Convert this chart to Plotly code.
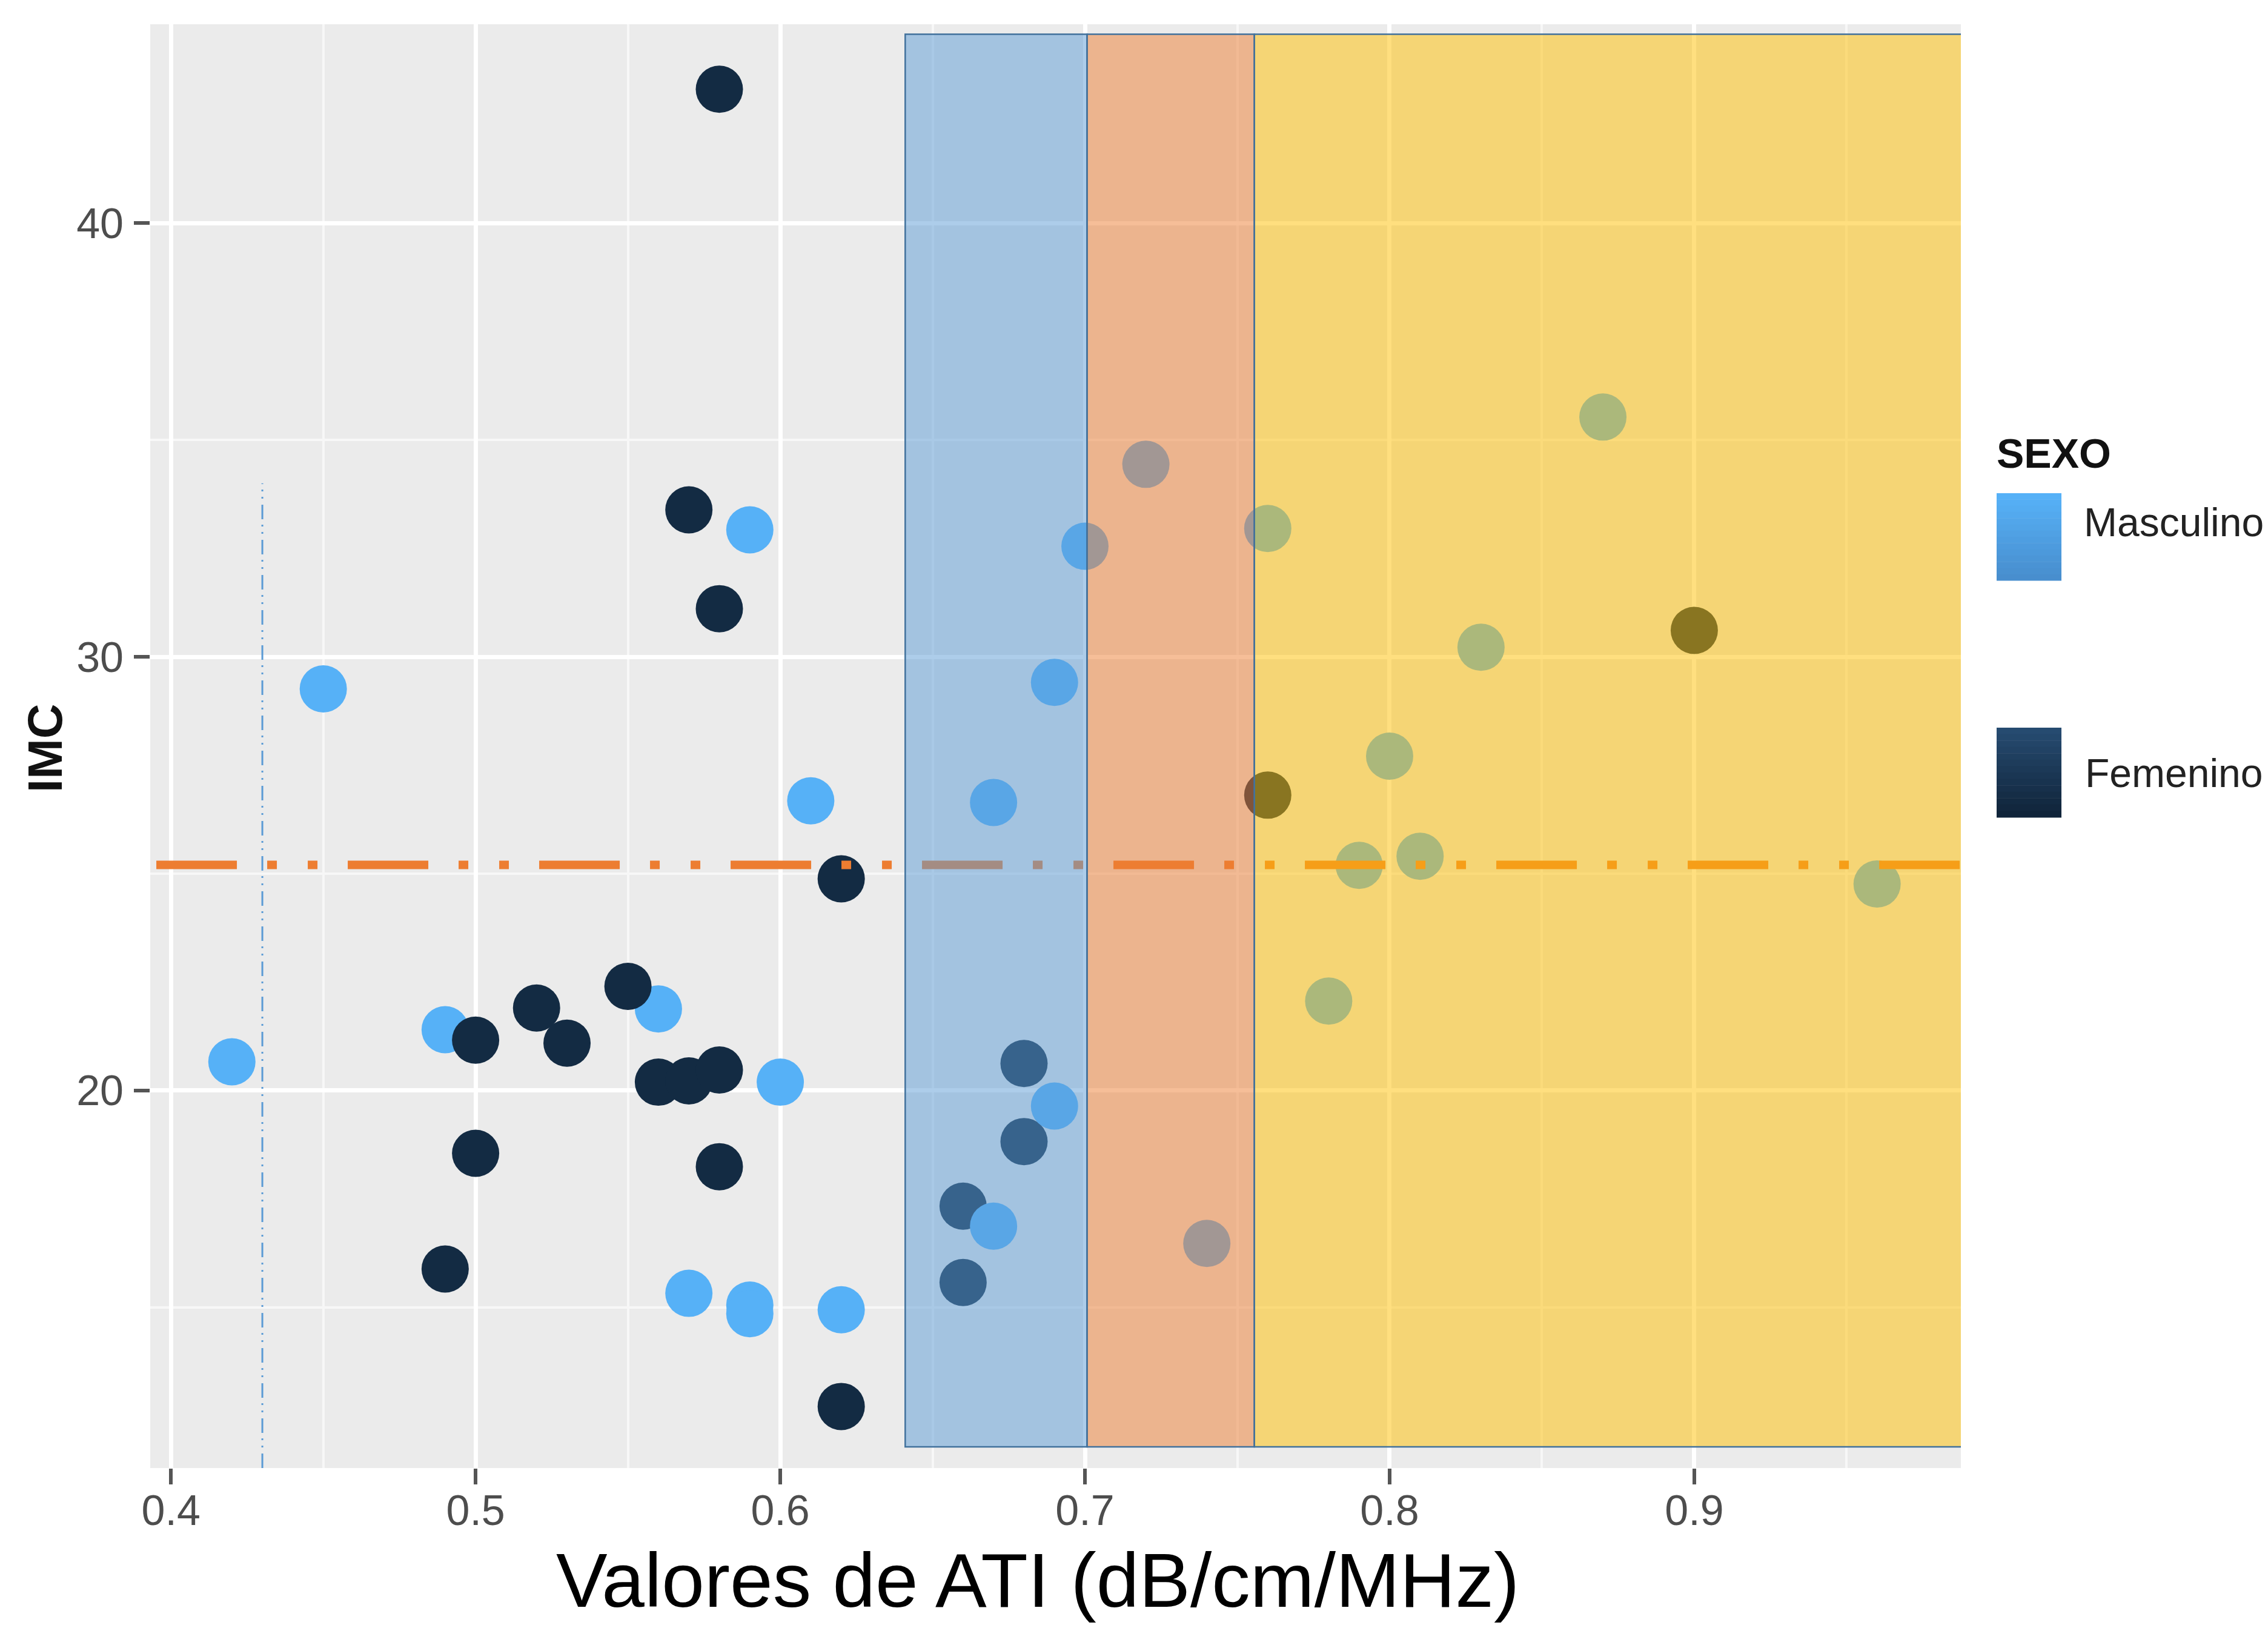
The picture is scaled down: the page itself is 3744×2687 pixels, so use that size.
import plotly.graph_objects as go

# ---------------- data ----------------
ATI = [0.42, 0.45, 0.49, 0.50, 0.56, 0.55, 0.52, 0.53, 0.59, 0.57, 0.58, 0.60, 0.61, 0.56, 0.57,
       0.58, 0.50, 0.58, 0.49, 0.57, 0.59, 0.59, 0.62, 0.62, 0.62, 0.58,
       0.66, 0.66, 0.67, 0.67, 0.68, 0.68, 0.69, 0.69, 0.70, 0.72, 0.74,
       0.76, 0.76, 0.87, 0.83, 0.80, 0.79, 0.81, 0.78, 0.96, 0.90]
IMC = [20.66, 29.26, 21.40, 21.16, 21.88, 22.40, 21.90, 21.09, 32.93, 33.39, 31.11, 20.19, 26.68, 20.19, 20.22,
       20.47, 18.55, 18.24, 15.88, 15.32, 15.05, 14.85, 14.94, 24.88, 12.71, 43.09,
       17.33, 15.57, 16.87, 26.64, 20.62, 18.82, 29.41, 19.64, 32.55, 34.44, 16.47,
       32.96, 26.81, 35.53, 30.22, 27.71, 25.19, 25.40, 22.06, 24.76, 30.61]
SEXO = ["M", "M", "M", "F", "M", "F", "F", "F", "M", "F", "F", "M", "M", "F", "F",
        "F", "F", "F", "F", "M", "M", "M", "M", "F", "F", "F",
        "F", "F", "M", "M", "F", "F", "M", "M", "M", "M", "M",
        "M", "F", "M", "M", "M", "M", "M", "M", "M", "F"]

SEX_LABELS = {"M": "Masculino", "F": "Femenino"}
SEX_COLORS = {"M": "#56B1F7", "F": "#132B43"}

IMC_THRESHOLD = 25.2        # horizontal dash-dot reference
ATI_REF = 0.43              # vertical dotted reference
ATI_REF_TOP = 34.0

ZONES_X = [0.641, 0.7007, 0.7556, 0.9895]   # zone boundaries on ATI
ZONE_Y = [11.78, 44.36]
ZONE_COLORS = ["rgba(91,155,213,0.5)", "rgba(237,125,49,0.5)", "rgba(255,192,0,0.5)"]

X_TICKS = [0.4, 0.5, 0.6, 0.7, 0.8, 0.9]
Y_TICKS = [20, 30, 40]
X_RANGE = [0.3932, 0.9875]
Y_RANGE = [11.29, 44.59]

# ---------------- layout geometry ----------------
W, H = 3744, 2687
ML, MR, MT, MB = 248, 507, 40, 264
PW = W - ML - MR
PH = H - MT - MB


def px_x(p):
    return (p - ML) / PW


def px_y(p):
    return (H - MB - p) / PH


FONT = "Liberation Sans, Arial, sans-serif"

fig = go.Figure()

fig.add_trace(go.Scatter(
    x=ATI, y=IMC, mode="markers",
    marker=dict(size=78, color=[SEX_COLORS[s] for s in SEXO], line=dict(width=0), opacity=1),
    text=[SEX_LABELS[s] for s in SEXO],
    showlegend=False,
    hovertemplate="%{text}<br>ATI=%{x}<br>IMC=%{y}<extra></extra>",
))

shapes = []
# vertical dotted reference line
shapes.append(dict(type="line", xref="x", yref="y", x0=ATI_REF, x1=ATI_REF,
                   y0=Y_RANGE[0], y1=ATI_REF_TOP, layer="above",
                   line=dict(color="#5B9BD5", width=3, dash="24px,10px,3px,9px,3px,9px")))
# horizontal dash-dot reference line
shapes.append(dict(type="line", xref="x", yref="y", x0=0.3952, x1=0.9895,
                   y0=IMC_THRESHOLD, y1=IMC_THRESHOLD, layer="above",
                   line=dict(color="#ED7D31", width=14, dash="133px,50px,16px,51px,16px,50px")))
# translucent zones
for i, col in enumerate(ZONE_COLORS):
    shapes.append(dict(type="rect", xref="x", yref="y",
                       x0=ZONES_X[i], x1=ZONES_X[i + 1], y0=ZONE_Y[0], y1=ZONE_Y[1],
                       fillcolor=col, layer="above",
                       line=dict(color="#41719C", width=2.5)))


# manual legend keys (vertical gradient)
def key(top, bottom, c_top, c_bot, n=14):
    out = []
    for k in range(n):
        t = k / (n - 1)
        r = round(c_top[0] + (c_bot[0] - c_top[0]) * t)
        g = round(c_top[1] + (c_bot[1] - c_top[1]) * t)
        b = round(c_top[2] + (c_bot[2] - c_top[2]) * t)
        y0 = top + (bottom - top) * k / n
        y1 = top + (bottom - top) * (k + 1) / n
        out.append(dict(type="rect", xref="paper", yref="paper",
                        x0=px_x(3296), x1=px_x(3403), y0=px_y(y1 + 0.5), y1=px_y(y0),
                        fillcolor=f"rgb({r},{g},{b})", line=dict(width=0), layer="above"))
    return out


shapes += key(814, 958, (86, 177, 247), (72, 142, 206))
shapes += key(1201, 1349, (38, 75, 112), (16, 36, 58))

annotations = [
    dict(text="<b>SEXO</b>", xref="paper", yref="paper", x=px_x(3294), y=px_y(748),
         xanchor="left", yanchor="middle", showarrow=False,
         font=dict(family=FONT, size=68, color="#111111")),
    dict(text="Masculino", xref="paper", yref="paper", x=px_x(3438), y=px_y(862),
         xanchor="left", yanchor="middle", showarrow=False,
         font=dict(family=FONT, size=66, color="#222222")),
    dict(text="Femenino", xref="paper", yref="paper", x=px_x(3440), y=px_y(1276),
         xanchor="left", yanchor="middle", showarrow=False,
         font=dict(family=FONT, size=66, color="#222222")),
    dict(text="Valores de ATI (dB/cm/MHz)", xref="paper", yref="paper", x=px_x(1713), y=px_y(2608),
         xanchor="center", yanchor="middle", showarrow=False,
         font=dict(family=FONT, size=127, color="#000000")),
    dict(text="<b>IMC</b>", xref="paper", yref="paper", x=px_x(74), y=px_y(1235),
         xanchor="center", yanchor="middle", showarrow=False, textangle=-90,
         font=dict(family=FONT, size=80, color="#111111")),
]

fig.update_layout(
    width=W, height=H,
    margin=dict(l=ML, r=MR, t=MT, b=MB, pad=0),
    paper_bgcolor="white", plot_bgcolor="#EBEBEB",
    shapes=shapes, annotations=annotations,
    showlegend=False,
    font=dict(family=FONT),
)

fig.update_xaxes(
    range=X_RANGE, tickvals=X_TICKS, ticktext=[f"{v:.1f}" for v in X_TICKS],
    showgrid=True, gridcolor="white", gridwidth=7, zeroline=False,
    minor=dict(dtick=0.05, tick0=0.35, showgrid=True, gridcolor="#F7F7F7", gridwidth=3.5, ticks=""),
    ticks="outside", ticklen=26, tickwidth=6, tickcolor="#555555",
    ticklabelstandoff=-17,
    tickfont=dict(family=FONT, size=70, color="#4D4D4D"),
    showline=False,
)
fig.update_yaxes(
    range=Y_RANGE, tickvals=Y_TICKS, ticktext=[str(v) for v in Y_TICKS],
    showgrid=True, gridcolor="white", gridwidth=7, zeroline=False,
    minor=dict(dtick=5, tick0=15, showgrid=True, gridcolor="#F7F7F7", gridwidth=3.5, ticks=""),
    ticks="outside", ticklen=26, tickwidth=6, tickcolor="#555555",
    ticklabelstandoff=3,
    tickfont=dict(family=FONT, size=70, color="#4D4D4D"),
    showline=False,
)

fig.write_html("out.html")
